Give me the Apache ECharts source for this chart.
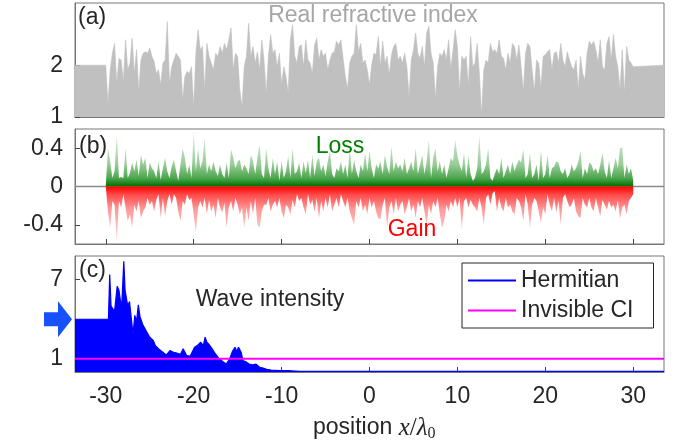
<!DOCTYPE html>
<html>
<head>
<meta charset="utf-8">
<script src="https://cdn.jsdelivr.net/npm/echarts@6/dist/echarts.min.js"></script>
<style>
html, body { margin: 0; padding: 0; background: #fff; }
#chart { width: 682px; height: 443px; }
</style>
</head>
<body>
<div id="chart"></div>
<script>
// x range of the plot and of the layered structure
var xMin = -33.5, xMax = 33.5;
var layerStart = -30, layerEnd = 30;
var xTicks = [-30, -20, -10, 0, 10, 20, 30];
var outerIndex = 2;

var indexA = [
  2.0, 1.25, 1.9, 2.23, 2.42, 1.65, 2.13, 2.1, 1.68, 2.49,
  1.91, 2.04, 2.52, 1.84, 2.3, 1.49, 2.1, 2.23, 2.26, 2.23,
  2.33, 2.17, 2.07, 1.84, 1.91, 1.62, 2.04, 2.1, 2.84, 1.65,
  1.97, 2.1, 2.23, 2.17, 2.1, 1.33, 1.78, 1.88, 1.84, 1.97,
  1.2, 2.23, 2.68, 2.3, 2.36, 1.52, 2.42, 2.17, 2.04, 1.91,
  2.23, 2.17, 2.36, 2.23, 2.42, 2.3, 2.49, 2.72, 1.91, 2.23,
  2.17, 1.52, 1.2, 1.97, 2.17, 2.81, 2.17, 2.36, 2.04, 2.26,
  1.91, 2.49, 2.1, 1.46, 2.17, 2.59, 2.23, 2.3, 1.97, 2.23
];
var indexB = [
  1.62, 1.97, 1.78, 1.46, 2.49, 2.78, 2.17, 2.04, 2.36, 2.39,
  1.97, 2.49, 2.1, 2.04, 1.84, 2.39, 2.52, 2.1, 2.3, 2.17,
  2.23, 1.91, 2.1, 2.23, 2.26, 2.46, 2.39, 2.49, 2.13, 1.78,
  1.55, 2.04, 2.17, 2.23, 2.78, 2.26, 2.42, 2.04, 2.1, 1.91,
  1.62, 2.0, 2.23, 2.2, 2.55, 1.97, 2.46, 2.04, 2.17, 1.81,
  2.2, 2.36, 2.42, 2.1, 2.17, 2.04, 2.23, 1.97, 1.39, 2.1,
  2.3, 2.62, 2.23, 2.13, 2.36, 1.97, 2.62, 2.75, 2.23, 2.04,
  1.36, 1.97, 2.23, 2.17, 2.3, 2.1, 2.49, 1.91, 2.3, 2.68
];
var indexC = [
  2.36, 1.49, 2.17, 2.1, 2.17, 1.59, 2.55, 1.97, 2.04, 2.42,
  1.84, 1.04, 1.91, 2.1, 2.04, 2.42, 2.26, 2.3, 2.23, 2.49,
  2.17, 2.13, 1.91, 2.23, 2.04, 2.42, 2.36, 2.1, 2.39, 1.97,
  1.49, 2.23, 2.42, 2.36, 1.91, 1.49, 2.1, 2.04, 1.55, 2.17,
  2.2, 2.26, 2.3, 1.91, 2.23, 2.26, 2.04, 2.42, 2.1, 1.97,
  2.26, 2.1, 1.97, 1.91, 2.1, 1.52, 2.17, 1.84, 1.72, 2.23,
  2.46, 2.39, 2.46, 2.3, 2.04, 2.49, 1.97, 1.91, 2.42, 2.55,
  2.1, 2.59, 2.17, 1.97, 1.52, 2.3, 1.46, 2.36, 2.1, 2.04,
  1.97
];

// (b) loss (positive) and gain (negative)
var lossA = [
  0, 0.40, 0.26, 0.09, 0.16, 0.54, 0.09, 0.10, 0.09, 0.40,
  0.09, 0.14, 0.25, 0.16, 0.28, 0.11, 0.33, 0.23, 0.30, 0.09,
  0.25, 0.19, 0.16, 0.09, 0.26, 0.07, 0.19, 0.30, 0.16, 0.09,
  0.21, 0.28, 0.16, 0.06, 0.23, 0.40, 0.30, 0.13, 0.23, 0.09,
  0.58, 0.16, 0.40, 0.19, 0.26, 0.51, 0.13, 0.23, 0.16, 0.26,
  0.16, 0.11, 0.23, 0.13, 0.09, 0.25, 0.09, 0.39, 0.30, 0.19,
  0.26, 0.28, 0.16, 0.23, 0.19, 0.13, 0.33, 0.26, 0.13, 0.30,
  0.44, 0.13, 0.09, 0.40, 0.19, 0.09, 0.30, 0.13, 0.26, 0.06
];
var lossB = [
  0.26, 0.09, 0.16, 0.32, 0.09, 0.40, 0.13, 0.16, 0.25, 0.09,
  0.26, 0.14, 0.28, 0.09, 0.33, 0.11, 0.26, 0.30, 0.16, 0.23,
  0.11, 0.26, 0.37, 0.13, 0.09, 0.19, 0.16, 0.26, 0.13, 0.23,
  0.09, 0.40, 0.13, 0.28, 0.16, 0.09, 0.23, 0.16, 0.35, 0.16,
  0.37, 0.19, 0.09, 0.23, 0.19, 0.26, 0.13, 0.33, 0.21, 0.13,
  0.42, 0.16, 0.26, 0.19, 0.23, 0.16, 0.30, 0.13, 0.19, 0.26,
  0.16, 0.40, 0.13, 0.23, 0.33, 0.13, 0.26, 0.49, 0.09, 0.30,
  0.40, 0.16, 0.26, 0.13, 0.23, 0.09, 0.19, 0.30, 0.26, 0.49
];
var lossC = [
  0.32, 0.23, 0.16, 0.35, 0.09, 0.32, 0.13, 0.06, 0.09, 0.19,
  0.54, 0.13, 0.16, 0.23, 0.40, 0.09, 0.06, 0.13, 0.19, 0.13,
  0.30, 0.09, 0.16, 0.23, 0.13, 0.26, 0.16, 0.23, 0.28, 0.25,
  0.39, 0.09, 0.13, 0.35, 0.09, 0.13, 0.23, 0.06, 0.38, 0.09,
  0.13, 0.33, 0.09, 0.19, 0.21, 0.26, 0.25, 0.16, 0.13, 0.19,
  0.09, 0.13, 0.23, 0.16, 0.19, 0.26, 0.37, 0.09, 0.19, 0.13,
  0.25, 0.23, 0.16, 0.19, 0.13, 0.23, 0.35, 0.16, 0.09, 0.28,
  0.09, 0.19, 0.30, 0.19, 0.40, 0.41, 0.09, 0.23, 0.13, 0.19,
  0.06
];
var gainA = [
  0, -0.26, -0.43, -0.15, -0.19, -0.59, -0.15, -0.22, -0.08, -0.22,
  -0.36, -0.29, -0.43, -0.19, -0.26, -0.15, -0.33, -0.26, -0.22, -0.12,
  -0.19, -0.15, -0.26, -0.14, -0.08, -0.33, -0.12, -0.31, -0.15, -0.08,
  -0.19, -0.08, -0.12, -0.26, -0.36, -0.15, -0.19, -0.08, -0.14, -0.12,
  -0.29, -0.48, -0.22, -0.15, -0.22, -0.12, -0.29, -0.14, -0.26, -0.19,
  -0.33, -0.12, -0.22, -0.27, -0.17, -0.43, -0.22, -0.15, -0.26, -0.12,
  -0.19, -0.29, -0.22, -0.43, -0.22, -0.36, -0.15, -0.29, -0.12, -0.40,
  -0.43, -0.26, -0.19, -0.19, -0.12, -0.26, -0.19, -0.15, -0.22, -0.12
];
var gainB = [
  -0.26, -0.33, -0.19, -0.22, -0.29, -0.14, -0.22, -0.08, -0.15, -0.12,
  -0.22, -0.29, -0.08, -0.19, -0.14, -0.26, -0.12, -0.33, -0.15, -0.26,
  -0.12, -0.22, -0.08, -0.26, -0.19, -0.12, -0.22, -0.08, -0.15, -0.22,
  -0.12, -0.26, -0.33, -0.40, -0.15, -0.22, -0.12, -0.26, -0.19, -0.29,
  -0.12, -0.22, -0.15, -0.26, -0.33, -0.34, -0.19, -0.12, -0.43, -0.22,
  -0.15, -0.29, -0.12, -0.26, -0.19, -0.15, -0.29, -0.22, -0.12, -0.26,
  -0.19, -0.33, -0.15, -0.22, -0.12, -0.26, -0.40, -0.19, -0.29, -0.15,
  -0.22, -0.12, -0.29, -0.43, -0.36, -0.19, -0.26, -0.15, -0.22, -0.12
];
var gainC = [
  -0.22, -0.12, -0.45, -0.15, -0.12, -0.22, -0.14, -0.19, -0.22, -0.26,
  -0.12, -0.22, -0.40, -0.12, -0.08, -0.19, -0.07, -0.05, -0.26, -0.12,
  -0.22, -0.26, -0.12, -0.22, -0.19, -0.26, -0.29, -0.12, -0.15, -0.22,
  -0.36, -0.08, -0.19, -0.43, -0.19, -0.12, -0.15, -0.26, -0.38, -0.22,
  -0.29, -0.08, -0.19, -0.26, -0.12, -0.27, -0.15, -0.40, -0.12, -0.08,
  -0.15, -0.22, -0.19, -0.12, -0.26, -0.31, -0.33, -0.12, -0.19, -0.22,
  -0.12, -0.22, -0.26, -0.12, -0.22, -0.31, -0.14, -0.19, -0.24, -0.15,
  -0.22, -0.19, -0.26, -0.14, -0.33, -0.22, -0.19, -0.29, -0.15, -0.12,
  -0.08
];

// (c) wave intensity, Hermitian case (upper envelope)
var hermX = [
  -33.5, -29.7, -29.55, -29.4, -29.2, -29.0, -28.7, -28.5, -28.2, -27.95,
  -27.8, -27.5, -27.3, -26.9, -26.7, -26.5, -26.3, -26.1, -25.8, -25.3,
  -25.0, -24.6, -24.35, -23.9, -23.4, -23.1, -22.7, -22.3, -22.0, -21.5,
  -21.2, -20.8, -20.4, -19.9, -19.6, -19.2, -19.1, -18.9, -18.7, -18.5,
  -18.2, -17.9, -17.5, -17.1, -16.6, -16.3, -15.9, -15.6, -15.3, -15.1,
  -14.9, -14.6, -14.4, -14.0, -13.7, -13.3, -12.9, -12.5, -12.1, -11.7,
  -11.2, -10.2, -9.2, -8.0, 33.5
];
var hermY = [
  4, 4, 7.4, 5.0, 5.1, 4.6, 6.5, 6.2, 4.8, 8.4,
  6.2, 5.0, 5.35, 2.85, 4.3, 3.8, 5.1, 4.2, 3.6, 3.0,
  2.64, 2.4, 2.0, 1.7, 1.45, 1.3, 1.63, 1.5, 1.45, 1.35,
  1.76, 1.25, 1.2, 1.88, 2.0, 2.26, 2.3, 2.0, 2.64, 2.26,
  2.05, 1.76, 1.35, 1.0, 0.75, 0.6, 1.0, 1.55, 1.88, 1.55,
  1.88, 1.5, 0.87, 0.75, 0.6, 0.55, 0.6, 0.36, 0.3, 0.2,
  0.15, 0.1, 0.1, 0.05, 0.05
];
var invisibleLevel = 1;
var incidentLevel = 4;

function spread(vals, x0, x1) {
  var step = (x1 - x0) / (vals.length - 1);
  return vals.map(function (v, i) { return [x0 + i * step, v]; });
}
function zip(xs, ys) {
  return xs.map(function (x, i) { return [x, ys[i]]; });
}

var font = 'Liberation Sans';
var ink = '#262626';
var fs = 23;

var indexData = [[xMin, outerIndex]]
  .concat(spread(indexA.concat(indexB, indexC), layerStart, layerEnd))
  .concat([[layerEnd, outerIndex], [xMax, outerIndex]]);
var lossData = spread(lossA.concat(lossB, lossC), layerStart, layerEnd);
var gainData = spread(gainA.concat(gainB, gainC), layerStart, layerEnd);

function xAxisFor(i, showLabels) {
  return {
    type: 'value', gridIndex: i, min: xMin, max: xMax,
    axisLine: { show: true, onZero: false, lineStyle: { color: '#777', width: 1 } },
    axisTick: { show: true, inside: true, length: 5, customValues: xTicks, lineStyle: { color: '#444' } },
    axisLabel: { show: showLabels, customValues: xTicks, fontFamily: font, fontSize: fs, color: ink, margin: 13 },
    splitLine: { show: false }
  };
}
function yAxisFor(i, min, max, ticks) {
  return {
    type: 'value', gridIndex: i, min: min, max: max,
    axisLine: { show: true, onZero: false, lineStyle: { color: '#777', width: 1 } },
    axisTick: { show: true, inside: true, length: 5, customValues: ticks, lineStyle: { color: '#444' } },
    axisLabel: { customValues: ticks, fontFamily: font, fontSize: fs, color: ink, margin: 12 },
    splitLine: { show: false }
  };
}

var chart = echarts.init(document.getElementById('chart'));
var gridBase = { left: 75, width: 589, show: true, borderColor: '#777', borderWidth: 1 };

var option = {
  animation: false,
  grid: [
    Object.assign({ top: 3, height: 114 }, gridBase),
    Object.assign({ top: 129, height: 115 }, gridBase),
    Object.assign({ top: 256, height: 116 }, gridBase)
  ],
  xAxis: [xAxisFor(0, false), xAxisFor(1, false), xAxisFor(2, true)],
  yAxis: [
    yAxisFor(0, 1, 3.2, [1, 2]),
    yAxisFor(1, -0.6, 0.6, [-0.4, 0, 0.4]),
    yAxisFor(2, 0, 8.8, [1, 7])
  ],
  legend: {
    data: ['Hermitian', 'Invisible CI'],
    orient: 'vertical', left: 462, top: 263,
    icon: 'rect', itemWidth: 48, itemHeight: 2, itemGap: 7,
    padding: [6, 20, 6, 6],
    borderColor: ink, borderWidth: 1, backgroundColor: '#fff',
    selectedMode: false,
    textStyle: { fontFamily: font, fontSize: fs, color: ink }
  },
  series: [
    {
      name: 'index', type: 'line', xAxisIndex: 0, yAxisIndex: 0,
      data: indexData, symbol: 'none',
      lineStyle: { color: '#c0c0c0', width: 0.6 },
      areaStyle: { color: '#c0c0c0', opacity: 1, origin: 'start' }
    },
    {
      name: 'zero', type: 'line', xAxisIndex: 1, yAxisIndex: 1,
      data: [[xMin, 0], [xMax, 0]], symbol: 'none', z: 1,
      lineStyle: { color: '#8a8a8a', width: 1.5 }
    },
    {
      name: 'Loss', type: 'line', xAxisIndex: 1, yAxisIndex: 1,
      data: lossData, symbol: 'none',
      lineStyle: { width: 0 },
      areaStyle: {
        origin: 'auto', opacity: 1,
        color: new echarts.graphic.LinearGradient(0, 0, 0, 1, [
          { offset: 0, color: 'rgba(0,128,0,0.12)' },
          { offset: 0.6, color: 'rgba(0,128,0,0.4)' },
          { offset: 0.85, color: 'rgba(0,128,0,0.7)' },
          { offset: 1, color: 'rgba(0,110,0,1)' }
        ])
      }
    },
    {
      name: 'Gain', type: 'line', xAxisIndex: 1, yAxisIndex: 1,
      data: gainData, symbol: 'none',
      lineStyle: { width: 0 },
      areaStyle: {
        origin: 'auto', opacity: 1,
        color: new echarts.graphic.LinearGradient(0, 0, 0, 1, [
          { offset: 0, color: 'rgba(255,0,0,1)' },
          { offset: 0.15, color: 'rgba(255,0,0,0.7)' },
          { offset: 0.4, color: 'rgba(255,0,0,0.4)' },
          { offset: 1, color: 'rgba(255,0,0,0.12)' }
        ])
      }
    },
    {
      name: 'Hermitian', type: 'line', xAxisIndex: 2, yAxisIndex: 2,
      data: zip(hermX, hermY), symbol: 'none', color: '#0000ff',
      lineStyle: { color: '#0000ff', width: 1.2 },
      areaStyle: { color: '#0000ff', opacity: 1, origin: 'start' }
    },
    {
      name: 'Invisible CI', type: 'line', xAxisIndex: 2, yAxisIndex: 2,
      data: [[xMin, invisibleLevel], [xMax, invisibleLevel]], symbol: 'none', color: '#ff00ff',
      lineStyle: { color: '#ff00ff', width: 2 }, z: 3
    }
  ]
};
chart.setOption(option);

// panel labels and annotations
var arrowTip = chart.convertToPixel({ gridIndex: 2 }, [xMin, incidentLevel]);
var ax = arrowTip[0] - 3, ay = arrowTip[1];
function label(text, x, y, color, align) {
  return {
    type: 'text', x: x, y: y, z: 10,
    style: { text: text, fill: color, font: fs + 'px "' + font + '"', align: align || 'left', verticalAlign: 'middle' }
  };
}
chart.setOption({
  graphic: [
    label('(a)', 78, 18, ink),
    label('Real refractive index', 373, 16, '#a6a6a6', 'center'),
    label('(b)', 79, 147, ink),
    label('Loss', 340, 147, '#008000', 'center'),
    label('Gain', 412, 230, '#ff0000', 'center'),
    label('(c)', 79, 271, ink),
    label('Wave intensity', 270, 300, ink, 'center'),
    {
      type: 'polygon', z: 10,
      shape: { points: [[ax, ay], [ax - 14, ay - 18], [ax - 14, ay - 7], [ax - 28, ay - 7],
                        [ax - 28, ay + 7], [ax - 14, ay + 7], [ax - 14, ay + 18]] },
      style: { fill: '#1750ff' }
    },
    {
      type: 'text', x: 313, y: 428, z: 10,
      style: {
        text: '{p|position }{m|x}{n|/}{m|λ}{s|0}',
        verticalAlign: 'middle',
        rich: {
          p: { fontFamily: font, fontSize: fs, fill: ink, lineHeight: 28 },
          m: { fontFamily: 'Liberation Serif', fontStyle: 'italic', fontSize: 25, fill: ink, lineHeight: 28 },
          n: { fontFamily: 'Liberation Serif', fontSize: 25, fill: ink, lineHeight: 28 },
          s: { fontFamily: 'Liberation Serif', fontSize: 16, fill: ink, lineHeight: 28, verticalAlign: 'bottom', padding: [10, 0, 0, 0] }
        }
      }
    }
  ]
});
</script>
</body>
</html>
